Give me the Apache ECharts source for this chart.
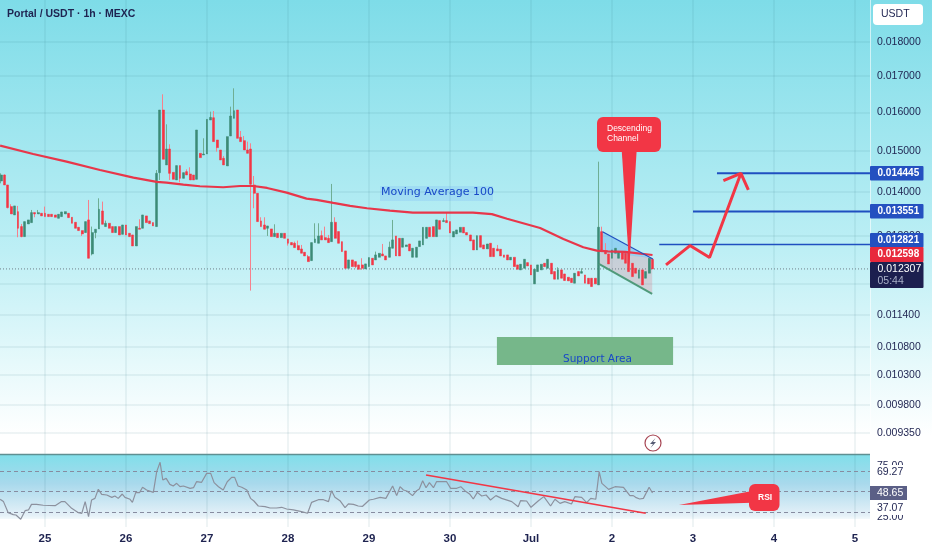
<!DOCTYPE html>
<html><head><meta charset="utf-8">
<style>html,body{margin:0;padding:0;background:#fff}#c{width:932px;height:550px}</style>
<script src="https://cdn.jsdelivr.net/npm/echarts@6/dist/echarts.min.js"></script>
</head><body><div id="c"></div>
<script>
// All prices below are in micro-USDT (1e-6 USDT). Hours count from 25 Jun 00:00.
const firstHour = -13;
const opens = [14261,14405,14166,13662,13472,13547,13212,12992,13270,13300,13525,13495,13510,13510,13487,13487,13472,13397,13435,13495,13510,13420,13308,13197,13124,13080,13360,12620,13080,13160,13562,13212,13285,13212,13080,13212,13042,13248,13064,13028,12790,13175,13175,13450,13338,13300,13212,14461,16062,14649,15046,14469,14285,14633,14325,14485,14429,14405,14301,14938,14896,14921,15795,15855,15275,15021,14813,14625,15378,15839,16062,15344,15258,15021,15046,14166,13970,13338,13248,13175,13160,12992,13064,12970,13064,12942,12863,12849,12798,12726,12656,12564,12480,12862,12848,13013,12970,12955,12883,13308,13102,12883,12684,12321,12494,12459,12390,12390,12307,12355,12529,12494,12550,12620,12578,12550,12741,13006,12955,12763,12777,12833,12550,12550,12777,12812,12955,13196,13211,12991,13345,13323,13345,13323,12984,13050,13087,13196,13080,13028,12920,12705,13013,12812,12727,12848,12741,12727,12720,12599,12599,12494,12550,12390,12287,12321,12438,12390,12003,12253,12287,12425,12321,12425,12253,12097,12287,12204,12137,12117,12016,12253,12218,12184,12117,12117,12117,11982,13100,12690,12620,12529,12635,12529,12648,12635,12648,12425,12322,12117,12287,12117,12219,12508];
const closes = [14405,14166,13639,13495,13677,13175,12992,13322,13360,13525,13495,13525,13450,13435,13435,13435,13420,13487,13540,13547,13412,13285,13175,13124,13050,13322,12529,13080,13153,13600,13263,13285,13175,13080,13212,13028,13248,13028,12992,12790,13212,13153,13472,13300,13278,13226,14445,16062,14789,15046,14445,14301,14633,14325,14461,14405,14285,14285,15533,14830,14921,15812,15864,15233,15080,14772,14649,15361,15901,16044,15318,15233,15021,14938,14183,13970,13323,13212,13153,13226,12992,13064,12970,13064,12956,12849,12812,12755,12705,12635,12578,12459,12862,12941,13006,12920,12920,12862,13308,12955,12848,12670,12321,12494,12355,12355,12300,12321,12411,12543,12390,12599,12634,12578,12494,12763,12920,12578,12578,12955,12812,12684,12741,12763,12898,13196,13196,12991,12991,13360,13153,13345,13300,13072,13102,13138,13196,13072,13028,12898,12705,13013,12763,12727,12833,12564,12564,12684,12578,12550,12494,12550,12355,12300,12404,12508,12369,12184,12300,12390,12404,12355,12508,12204,12097,12287,12117,12070,12063,12030,12218,12164,12253,12016,12003,11949,12003,13198,12669,12620,12410,12705,12741,12669,12508,12425,12252,12150,12219,12287,11982,12252,12529,12307];
const lows = [14205,14166,13620,13495,13472,12978,12978,12992,13270,13300,13420,13495,13450,13435,13435,13435,13420,13397,13435,13495,13412,13285,13175,13124,13006,13080,12529,12590,12956,13160,13263,13212,13175,13080,13080,13028,13042,13028,12992,12790,12790,13153,13175,13300,13278,13226,13212,14285,14789,14649,14285,14301,14285,14229,14325,14405,14285,14285,14301,14830,14896,14921,15795,15233,14979,14772,14649,14625,15378,15839,15318,15233,15021,14938,11868,13624,13323,13212,13153,13006,12992,12992,12970,12970,12956,12798,12812,12755,12705,12635,12578,12459,12480,12862,12848,12920,12920,12862,12883,12955,12848,12670,12321,12321,12355,12321,12300,12287,12307,12355,12390,12494,12550,12578,12494,12550,12741,12578,12578,12763,12777,12684,12550,12550,12777,12812,12955,12991,12991,12991,13153,13323,13300,13072,12984,13050,13087,13072,13028,12898,12705,12705,12763,12727,12727,12564,12564,12684,12578,12550,12494,12494,12355,12300,12287,12321,12369,12184,12003,12253,12287,12355,12321,12204,12097,12097,12117,12070,12063,12030,12016,12164,12218,12016,12003,11949,12003,11982,12669,12620,12410,12529,12635,12529,12508,12425,12252,12150,12219,12117,11982,12117,12219,12307];
const highs = [14445,14420,14166,13716,13677,13677,13270,13322,13360,13585,13525,13585,13510,13662,13487,13487,13472,13487,13540,13547,13510,13420,13308,13197,13124,13322,13815,13212,13153,13853,13777,13345,13285,13212,13212,13212,13248,13248,13064,13028,13212,13375,13472,13450,13338,13300,14526,16062,16490,15681,15165,14469,14633,14633,14461,14542,14592,14405,15533,14938,15318,15812,16017,16035,15275,15021,14871,15361,16152,16656,16062,15507,15378,15233,15190,14381,13970,13420,13420,13226,13160,13263,13064,13064,13064,12942,12863,12884,12906,12812,12656,12599,12862,13285,13285,13124,13211,13028,14190,13420,13102,12883,12684,12494,12494,12459,12390,12529,12411,12543,12529,12670,12634,12833,12578,12883,13360,13006,12955,12955,12812,12833,12741,12763,12898,13196,13196,13196,13211,13360,13345,13397,13532,13323,13102,13138,13196,13196,13080,13028,12920,13013,13013,12812,12833,12848,12741,12812,12720,12599,12599,12550,12550,12390,12404,12508,12438,12390,12300,12390,12404,12425,12508,12425,12253,12341,12287,12204,12137,12117,12218,12253,12321,12184,12117,12117,12117,14730,13210,12850,12620,12705,12741,12669,12648,12635,12776,12425,12322,12287,12287,12252,12529,12508];
const maHours = [-13.3,-3.5,6.4,16.3,26.2,33.1,36,41,45.9,52.8,57.8,61.7,65.8,71.6,77.5,80.5,85.4,90.4,95.4,102.2,109,119,126.8,132.4,136.9,146.7,153.6,159.5,163.5,166.8,171.9,180];
const maValues = [15130,14921,14730,14526,14340,14238,14221,14173,14135,14112,14142,14142,14095,13986,13845,13815,13746,13677,13624,13570,13525,13525,13525,13490,13385,13180,12940,12763,12690,12674,12663,12598];
const rsiHours = [-13.3,-12.3,-10.9,-9.4,-8.6,-7.2,-5.9,-4.9,-4,-2.5,-0.5,3,4.9,5.9,7.9,9.9,10.9,11.9,12.9,13.8,14.8,15.8,16.8,18.3,19.8,20.7,21.7,22.9,23.7,25.2,25.9,26.9,28,28.9,30.1,32.1,33.1,34.1,34.9,35.9,37,38,39,40,41,43,44,44.9,46.4,47.9,49.1,50.1,51.4,52.8,54,55.3,56.2,57.2,58.3,59.8,60.9,61.9,63.2,65.2,66.7,68.6,70.1,71.6,73.6,76,77.8,79,81,82.5,84,84.9,85.9,87.4,88.9,89.9,91.4,92.8,94.1,96.1,97.3,99.3,101,103,104.2,105.2,106.2,107.2,108.9,110.1,110.9,111.9,112.9,113.9,115.1,116,119,120.2,122,123.2,124.4,125.9,126.9,128.1,129.4,130.7,132,133.6,135.3,138.3,140.2,140.9,142.7,144,146.2,147.8,149.8,151.1,152.6,154,156,157,159,160.5,161.7,163.2,164.2,165,167,168.9,171.4,173.3,174.3,175,176.2,177.3,179,180];
const rsiValues = [42.5,40.2,29.3,27.4,27,22.8,31.3,32,37.5,37.5,36.6,36.2,40.2,40.2,33.6,29.3,28.7,40.2,25.4,41.8,43.4,52.3,47.4,46.7,44.4,45.7,43.4,47.7,44.4,42.5,39.5,49.3,49,54.3,51.6,49.3,69.7,78.9,61.5,63.1,57.2,55.6,58.2,54.9,55.6,53.3,53.9,59.8,59.2,68,68,58.9,54.9,51.6,59.8,64.1,64.1,55.6,54.3,51.6,43.4,40.8,35.9,35.2,33.9,33.9,34.6,32.9,32,30.3,28.7,39.5,42.1,42.1,40.2,51,44.4,41.1,34.3,37.9,37.5,35.9,35.6,41.8,42.5,44.4,43.4,55.6,46.1,54.9,51.6,50.7,46.1,51,52.6,60.8,53.9,58.9,53.9,59.8,59.8,53.3,53.3,54.9,51,47.4,42.8,49.3,45.7,46.7,41.8,46.1,43.4,40.2,35.2,41.1,40.8,34.6,41.1,45.1,35.9,42.5,38.5,40.2,37.9,45.1,44.4,39.2,43.4,42.5,69.7,58.2,52.3,54.9,54.3,46.1,46.1,44.4,42.8,43.4,54.3,48.65];
const priceTicks = [0.018,0.017,0.016,0.015,0.014,0.013,0.012,0.0114,0.0108,0.0103,0.0098,0.00935];
const dayHours = [0,24,48,72,96,120,144,168,192,216,240];
const dayLabels = ['25','26','27','28','29','30','Jul','2','3','4','5'];
const level1 = [[199.1,14445],[244.44,14445]];
const level2 = [[192,13551],[244.44,13551]];
const level3 = [[182,12821],[244.44,12821]];
const arrowPath = [[184,12390],[191.1,12798],[196.9,12543],[206.2,14445]];
const arrowHead = [[201,14268],[206.2,14445],[208.4,14048]];
const channelTop = [[165.2,13100],[180.1,12515]];
const channelBottom = [[164.1,12411],[179.9,11803]];
const channelBlue = [[165.2,13100],[179,12540],[164.4,12662]];
const channelPink = [[164.1,12662],[179.9,12540],[179.9,11803],[164.1,12411]];
const supportArea = [[133.9,10982],[186.1,10982],[186.1,10478],[133.9,10478]];
const rsiTrend = [[112.9,66.5],[178,28.7]];
const rsiLevels = [70,50,30];
const lastPrice = 12307;
const lastPriceLine = [[-13.333,lastPrice],[244.44,lastPrice]];

const P = v => v / 1e6;
const pts = a => a.map(d => [d[0], P(d[1])]);
const hourOf = i => firstHour + i;
const wickRows = opens.map((o,i)=>[hourOf(i),P(o),P(closes[i]),P(lows[i]),P(highs[i])]);
const bodyRows = opens.map((o,i)=>[hourOf(i),P(o),P(closes[i]),P(Math.min(o,closes[i])),P(Math.max(o,closes[i]))]);
const red='#f23645', green='#3c8a76', navy='#1e2350', blue='#2450c0';
const font='"Liberation Sans",Arial,sans-serif';

function poly(points,color){
  return {type:'custom',xAxisIndex:0,yAxisIndex:0,silent:true,z:1,
    data:pts(points),encode:{x:0,y:1},
    renderItem:(p,api)=>{ if(p.dataIndex!==0) return null;
      return {type:'polygon',shape:{points:points.map(d=>api.coord([d[0],P(d[1])]))},style:{fill:color}}; }};
}
function line(points,color,w,xi=0,yi=0,conv=true,z=6,type='solid'){
  return {type:'line',xAxisIndex:xi,yAxisIndex:yi,data:conv?pts(points):points,symbol:'none',silent:true,z,
    lineStyle:{color,width:w,type},animation:false};
}
const chart=echarts.init(document.getElementById('c'),null,{renderer:'canvas'});
const gridLine={show:true,lineStyle:{color:'rgba(40,110,125,0.10)',width:1.5}};
chart.setOption({
  animation:false,
  grid:[{left:0,top:0,width:870,height:454},{left:0,top:454,width:870,height:73}],
  xAxis:[
   {type:'value',gridIndex:0,min:-13.333,max:244.444,axisLine:{show:false},axisLabel:{show:false},
    axisTick:{show:false,customValues:dayHours},splitLine:gridLine},
   {type:'value',gridIndex:1,min:-13.333,max:244.444,axisLine:{show:false},
    axisTick:{show:false,customValues:dayHours},splitLine:gridLine,
    axisLabel:{customValues:dayHours,margin:6,color:navy,fontFamily:font,fontSize:11.5,fontWeight:'bold',
      formatter:v=>dayLabels[dayHours.indexOf(v)]||''}}
  ],
  yAxis:[
   {type:'log',gridIndex:0,position:'right',min:0.009026,max:0.019312,
    axisLine:{show:true,onZero:false,lineStyle:{color:'rgba(255,255,255,0.6)',width:1}},
    axisTick:{show:false,customValues:priceTicks},splitLine:gridLine,
    axisLabel:{customValues:priceTicks,color:navy,fontFamily:font,fontSize:10.5,margin:7,
      formatter:v=>Number(v).toFixed(6)}},
   {type:'value',gridIndex:1,position:'right',min:15.2,max:87.1,
    axisLine:{show:true,onZero:false,lineStyle:{color:'rgba(255,255,255,0.6)',width:1}},
    axisTick:{show:false,customValues:[75,25]},splitLine:{show:false},
    axisLabel:{customValues:[75,25],color:navy,fontFamily:font,fontSize:10.5,margin:7,formatter:v=>v.toFixed(2)}}
  ],
  graphic:{elements:[
   {type:'rect',z:-5,silent:true,shape:{x:0,y:0,width:932,height:454},
    style:{fill:new echarts.graphic.LinearGradient(0,0,0,1,[{offset:0,color:'#7edce8'},{offset:0.55,color:'#bdeff5'},{offset:0.8,color:'#e6f9fb'},{offset:0.96,color:'#ffffff'}])}},
   {type:'rect',z:-5,silent:true,shape:{x:0,y:454,width:870,height:65},
    style:{fill:new echarts.graphic.LinearGradient(0,0,0,1,[{offset:0,color:'#80dfea'},{offset:0.45,color:'#a8d9ec'},{offset:0.95,color:'#e6f1f8'},{offset:1,color:'#f3fafc'}])}},
   {type:'line',z:20,silent:true,shape:{x1:0,y1:454.5,x2:870,y2:454.5},style:{stroke:'#5f8f92',lineWidth:1.5}},
   {type:'text',z:30,silent:true,x:7,y:9,style:{text:'Portal / USDT · 1h · MEXC',fill:navy,font:'bold 10.5px '+font}},
   {type:'rect',z:30,silent:true,shape:{x:873,y:4,width:50,height:21,r:4},style:{fill:'#fff'}},
   {type:'text',z:31,silent:true,x:881,y:9,style:{text:'USDT',fill:navy,font:'10.5px '+font}},
   // price tags
   ...[[166,'0.014445',blue],[204,'0.013551',blue],[233,'0.012821',blue],[247,'0.012598','#e8283c']].flatMap(t=>[
     {type:'rect',z:30,silent:true,shape:{x:870,y:t[0],width:53.5,height:t[0]>=247?15:14.5,r:1},style:{fill:t[2]}},
     {type:'text',z:31,silent:true,x:877.5,y:t[0]+2.5,style:{text:t[1],fill:'#fff',font:'bold 10px '+font}}]),
   {type:'rect',z:30,silent:true,shape:{x:870,y:262,width:53.5,height:26,r:1},style:{fill:'#1c1f4f'}},
   {type:'text',z:31,silent:true,x:877.5,y:264,style:{text:'0.012307',fill:'#fff',font:'10.5px '+font}},
   {type:'text',z:31,silent:true,x:877.5,y:276,style:{text:'05:44',fill:'#a9b0c8',font:'10.5px '+font}},
   // RSI tags
   {type:'rect',z:30,silent:true,shape:{x:870,y:465,width:37,height:14},style:{fill:'#fff'}},
   {type:'text',z:31,silent:true,x:877,y:466.5,style:{text:'69.27',fill:navy,font:'10.5px '+font}},
   {type:'rect',z:30,silent:true,shape:{x:870,y:486,width:37,height:14},style:{fill:'#5b5f86'}},
   {type:'text',z:31,silent:true,x:877,y:487.5,style:{text:'48.65',fill:'#fff',font:'10.5px '+font}},
   {type:'rect',z:30,silent:true,shape:{x:870,y:501,width:37,height:14},style:{fill:'#fff'}},
   {type:'text',z:31,silent:true,x:877,y:502.5,style:{text:'37.07',fill:navy,font:'10.5px '+font}},
   // callouts
   {type:'polygon',z:30,silent:true,shape:{points:[[621.7,150],[636.7,150],[629.3,267]]},style:{fill:red}},
   {type:'rect',z:30,silent:true,shape:{x:597,y:117,width:64,height:35,r:6},style:{fill:red}},
   {type:'text',z:31,silent:true,x:607,y:124,style:{text:'Descending\nChannel',fill:'#fff',font:'8.5px '+font,lineHeight:10}},
   {type:'polygon',z:30,silent:true,shape:{points:[[679,505],[752,491],[752,502.7]]},style:{fill:red}},
   {type:'rect',z:30,silent:true,shape:{x:749,y:484,width:30.5,height:27,r:6},style:{fill:red}},
   {type:'text',z:31,silent:true,x:758,y:493,style:{text:'RSI',fill:'#fff',font:'bold 8.5px '+font}},
   {type:'rect',z:8,silent:true,shape:{x:380,y:186,width:113,height:15},style:{fill:'rgba(41,98,255,0.10)'}},
   {type:'text',z:31,silent:true,x:381,y:187,style:{text:'Moving Average 100',fill:'#1848c8',font:'11px "DejaVu Sans",sans-serif'}},
   {type:'text',z:31,silent:true,x:563,y:354,style:{text:'Support Area',fill:'#1848c8',font:'10.5px "DejaVu Sans",sans-serif'}},
   {type:'circle',z:30,silent:true,shape:{cx:653,cy:443,r:8},style:{fill:'#fff',stroke:'#a64452',lineWidth:1.2}},
   {type:'polygon',z:31,silent:true,shape:{points:[[655.5,438],[650,444],[653,444],[650.5,448],[656,442],[653,442]]},style:{fill:'#555b73'}}
  ]},
  series:[
   poly(supportArea,'#76b78a'),
   poly(channelBlue,'rgba(41,140,235,0.28)'),
   poly(channelPink,'rgba(225,90,110,0.22)'),
   line(lastPriceLine,'#6f7f8a',1,0,0,true,2,[1,2]),
   {type:'candlestick',xAxisIndex:0,yAxisIndex:0,silent:true,z:3,barWidth:1,data:wickRows,encode:{x:0,y:[1,2,3,4]},
    itemStyle:{color:'#6fae94',color0:'#f7808c',borderColor:'#6fae94',borderColor0:'#f7808c',opacity:1},
    animation:false},
   {type:'candlestick',xAxisIndex:0,yAxisIndex:0,silent:true,z:4,barWidth:2.4,data:bodyRows,encode:{x:0,y:[1,2,3,4]},
    itemStyle:{color:green,color0:red,borderColor:green,borderColor0:red,borderWidth:0.5},
    animation:false},
   line(maHours.map((h,i)=>[h,maValues[i]]),'#e8364a',2.2),
   line(level1,'#1f4fc0',2), line(level2,'#1f4fc0',2), line(level3,'#1f4fc0',1.5),
   line(arrowPath,red,3,0,0,true,9), line(arrowHead,red,3,0,0,true,9),
   line(channelTop,'#1f4fc0',1.2), line(channelBottom,'#4f9a7a',2),
   Object.assign(line(rsiHours.map((h,i)=>[h,rsiValues[i]]),'#8c919e',1.2,1,1,false),
     {markLine:{silent:true,symbol:'none',label:{show:false},data:rsiLevels.map(v=>({yAxis:v})),
       lineStyle:{color:'#878ca0',type:[4,3],width:1}}}),
   line(rsiTrend,red,1.6,1,1,false,7)
  ]
});
</script></body></html>
